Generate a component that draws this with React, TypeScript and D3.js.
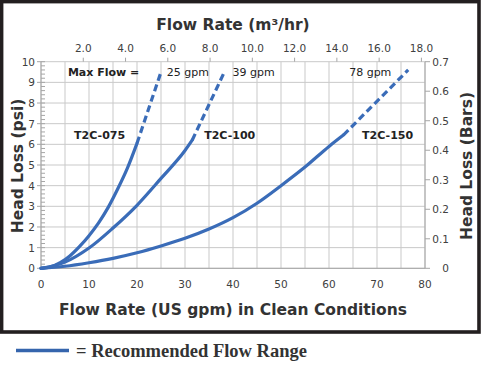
import * as d3 from 'd3';

const gpmTicks = [0, 10, 20, 30, 40, 50, 60, 70, 80];
const psiTicks = [0, 1, 2, 3, 4, 5, 6, 7, 8, 9, 10];
const barTicks = [0, 0.1, 0.2, 0.3, 0.4, 0.5, 0.6, 0.7];
const m3Ticks = [2, 4, 6, 8, 10, 12, 14, 16, 18];

// recommended range (solid) and up to max flow (dashed), gpm -> psi
const solid075: [number, number][] = [[0, 0], [2, 0.07], [4, 0.27], [6, 0.6], [8, 1.05], [10, 1.58], [12, 2.2], [14, 2.95], [16, 3.85], [18, 4.85], [20, 6.05]];
const dash075: [number, number][] = [[20, 6.05], [25, 9.5]];
const solid100: [number, number][] = [[0, 0], [5, 0.3], [10, 0.98], [15, 1.95], [20, 3.05], [25, 4.35], [30, 5.7], [31.5, 6.2]];
const dash100: [number, number][] = [[31.5, 6.2], [38, 9.4]];
const solid150: [number, number][] = [[0, 0], [5, 0.1], [10, 0.27], [15, 0.48], [20, 0.75], [25, 1.08], [30, 1.45], [35, 1.9], [40, 2.45], [45, 3.15], [50, 4.0], [55, 4.9], [60, 5.9], [63, 6.45]];
const dash150: [number, number][] = [[63, 6.45], [76.5, 9.6]];

const modelNames = ['T2C-075', 'T2C-100', 'T2C-150'];
const modelLabelAt = [6.9, 34, 66.9];
const maxFlowLabels = ['25 gpm', '39 gpm', '78 gpm'];
const maxFlowAt = [26.2, 39.9, 64.2];

const GPM_PER_M3H = 4.4029;
const blue = '#3a6cb8';
const grid = '#c9c9c9';
const font = '"DejaVu Sans", Verdana, sans-serif';

export default function App() {
  const left = 41, right = 425, top = 61.7, bottom = 268.3;
  const x = d3.scaleLinear().domain([0, 80]).range([left, right]);
  const xTop = d3.scaleLinear().domain([0, 80 / GPM_PER_M3H]).range([left, right]);
  const y = d3.scaleLinear().domain([0, 10]).range([bottom, top]);
  const yBar = d3.scaleLinear().domain([0, 0.7]).range([bottom, top]);

  const line = d3.line<[number, number]>()
    .x(d => x(d[0]))
    .y(d => y(d[1]))
    .curve(d3.curveMonotoneX);

  const vGrid = d3.range(0, 81, 5);
  const minor = d3.range(0, 10.01, 0.2);

  return (
    <svg width={481} height={368} style={{ position: 'absolute', left: 0, top: 0, background: '#fff' }}>
      <rect x={1.6} y={1.6} width={477.4} height={330.4} fill="#fff" stroke="#231f20" strokeWidth={3.6} />

      {/* grid */}
      {vGrid.map(v => (
        <line key={'v' + v} x1={x(v)} x2={x(v)} y1={top} y2={bottom} stroke={grid} strokeWidth={1} />
      ))}
      {psiTicks.map(v => (
        <line key={'h' + v} x1={left} x2={right} y1={y(v)} y2={y(v)} stroke={grid} strokeWidth={1} />
      ))}
      <line x1={left} x2={left} y1={top} y2={bottom} stroke="#a6a6a6" />
      <line x1={right} x2={right} y1={top} y2={bottom} stroke="#a6a6a6" />
      <line x1={left} x2={right} y1={bottom} y2={bottom} stroke="#a6a6a6" />

      {/* left axis */}
      {minor.map((v, i) => (
        <line key={'m' + i} x1={left} x2={left + 4} y1={y(v)} y2={y(v)} stroke="#a6a6a6" />
      ))}
      {psiTicks.map(v => (
        <g key={'l' + v}>
          <line x1={left - 4} x2={left} y1={y(v)} y2={y(v)} stroke="#a6a6a6" />
          <text x={35} y={y(v) + 4} textAnchor="end" fontFamily={font} fontSize={10.5} fill="#404040">{v}</text>
        </g>
      ))}

      {/* right axis */}
      {barTicks.map(v => (
        <g key={'r' + v}>
          <line x1={right} x2={right + 5} y1={yBar(v)} y2={yBar(v)} stroke="#a6a6a6" />
          <text x={449} y={yBar(v) + 4} textAnchor="end" fontFamily={font} fontSize={10.5} fill="#404040">{v}</text>
        </g>
      ))}

      {/* bottom axis */}
      {gpmTicks.map(v => (
        <text key={'b' + v} x={x(v)} y={288} textAnchor="middle" fontFamily={font} fontSize={10.5} fill="#404040">{v}</text>
      ))}

      {/* top axis */}
      {m3Ticks.map(v => (
        <g key={'t' + v}>
          <line x1={xTop(v)} x2={xTop(v)} y1={top - 4} y2={top} stroke="#a6a6a6" />
          <text x={xTop(v)} y={52} textAnchor="middle" fontFamily={font} fontSize={10.5} fill="#404040">{v.toFixed(1)}</text>
        </g>
      ))}

      {/* curves */}
      {[solid075, solid100, solid150].map((d, i) => (
        <path key={'s' + i} d={line(d) || undefined} fill="none" stroke={blue} strokeWidth={3.2} strokeLinecap="round" />
      ))}
      {[dash075, dash100, dash150].map((d, i) => (
        <path key={'d' + i} d={line(d) || undefined} fill="none" stroke={blue} strokeWidth={3.2} strokeDasharray="7,4" />
      ))}

      {/* annotations */}
      <text x={x(5.6)} y={y(9.31)} fontFamily={font} fontSize={11} fontWeight="bold" fill="#222">Max Flow =</text>
      {maxFlowLabels.map((t, i) => (
        <text key={t} x={x(maxFlowAt[i])} y={y(9.31)} fontFamily={font} fontSize={11} fill="#222">{t}</text>
      ))}
      {modelNames.map((t, i) => (
        <text key={t} x={x(modelLabelAt[i])} y={y(6.24)} fontFamily={font} fontSize={11} fontWeight="bold" fill="#222">{t}</text>
      ))}

      {/* axis titles */}
      <text x={233} y={30} textAnchor="middle" fontFamily={font} fontSize={15.5} fontWeight="bold" fill="#333">
        Flow Rate (m³/hr)
      </text>
      <text x={233} y={315} textAnchor="middle" fontFamily={font} fontSize={15.5} fontWeight="bold" fill="#333">
        Flow Rate (US gpm) in Clean Conditions
      </text>
      <text transform="translate(23,166) rotate(-90)" textAnchor="middle" fontFamily={font} fontSize={15.5} fontWeight="bold" fill="#333">
        Head Loss (psi)
      </text>
      <text transform="translate(472,166) rotate(-90)" textAnchor="middle" fontFamily={font} fontSize={15.5} fontWeight="bold" fill="#333">
        Head Loss (Bars)
      </text>

      {/* legend */}
      <line x1={16} x2={69} y1={350.5} y2={350.5} stroke="#3565ad" strokeWidth={3.5} />
      <text x={76} y={356.5} fontFamily='"Liberation Serif", "Times New Roman", serif' fontSize={18.5} fontWeight="bold" fill="#333">
        = Recommended Flow Range
      </text>
    </svg>
  );
}
